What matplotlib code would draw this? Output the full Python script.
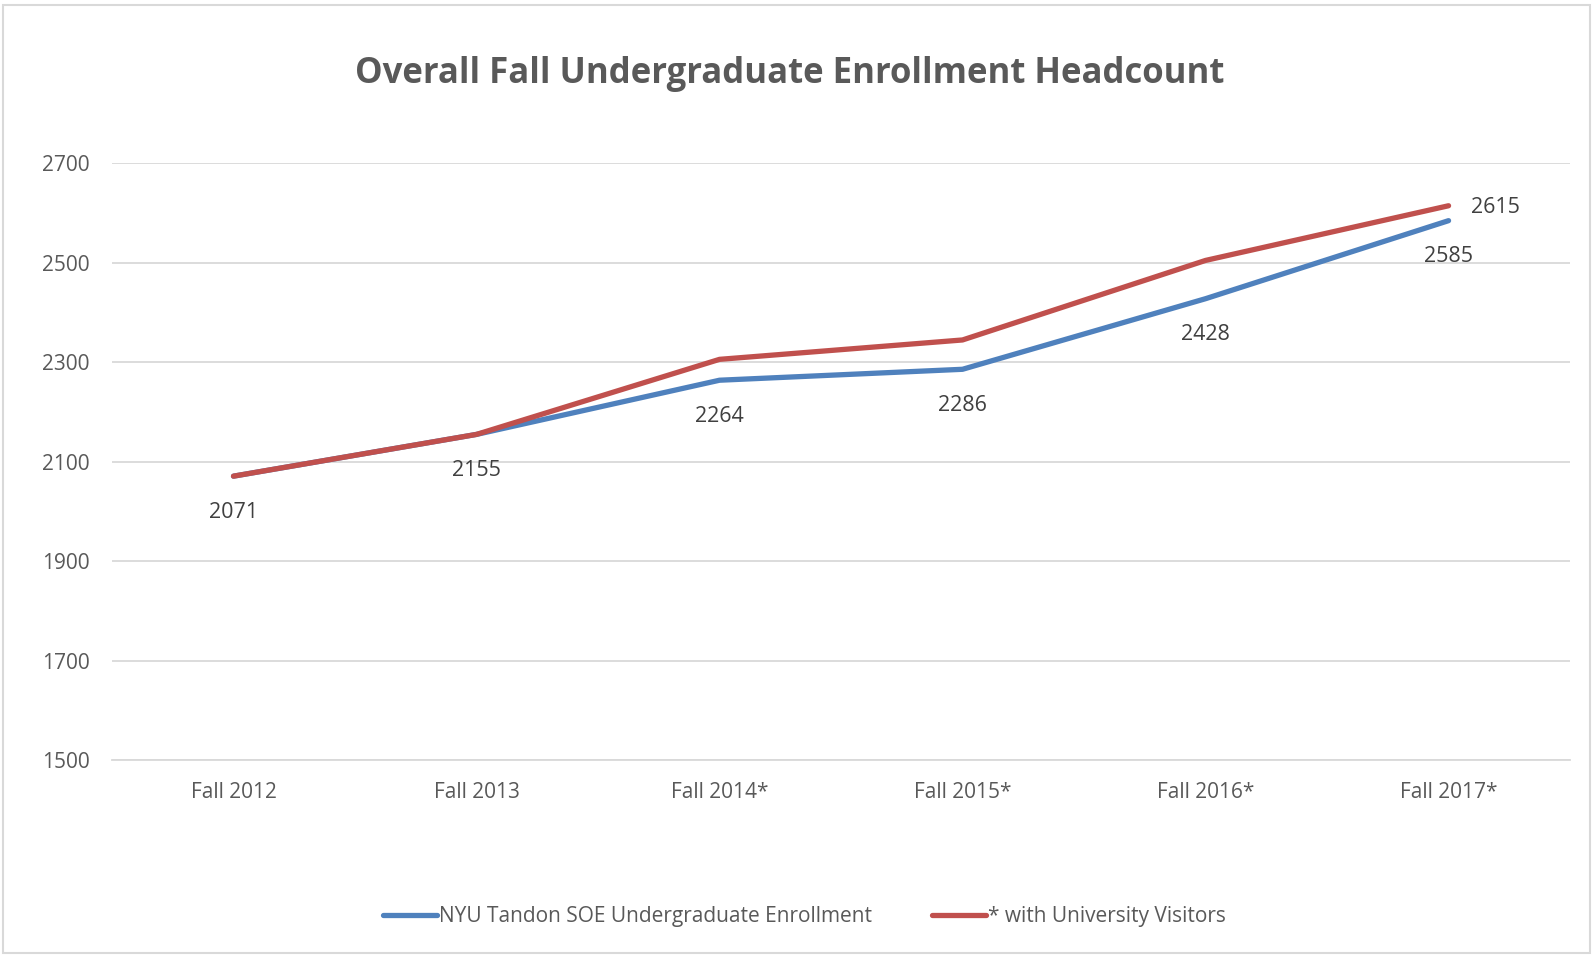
import matplotlib
matplotlib.use("Agg")
import matplotlib.pyplot as plt
from matplotlib.patches import Rectangle

plt.rcParams['font.family'] = ['Open Sans', 'DejaVu Sans']

categories = ["Fall 2012", "Fall 2013", "Fall 2014*", "Fall 2015*", "Fall 2016*", "Fall 2017*"]
tandon = [2071, 2155, 2264, 2286, 2428, 2585]
visitors = [2071, 2155, 2306, 2345, 2505, 2615]
yticks = [1500, 1700, 1900, 2100, 2300, 2500, 2700]

blue = "#4F81BD"
red = "#C0504D"
grey_text = "#595959"

fig = plt.figure(figsize=(15.93, 9.55), dpi=100)
ax = fig.add_axes([0.0703, 0.2042, 0.9153, 0.6246])

x = range(len(categories))
ax.plot(x, tandon, color=blue, lw=3.8, solid_capstyle='round', solid_joinstyle='round',
        label="NYU Tandon SOE Undergraduate Enrollment", zorder=3)
ax.plot(x, visitors, color=red, lw=3.8, solid_capstyle='round', solid_joinstyle='round',
        label="* with University Visitors", zorder=3)

# data labels
for i, v in enumerate(tandon):
    ax.annotate(str(v), (i, v), xytext=(0, -26), textcoords='offset points',
                ha='center', va='center', fontsize=15.5, color="#404040")
ax.annotate(str(visitors[-1]), (len(visitors) - 1, visitors[-1]), xytext=(34, -1),
            textcoords='offset points', ha='center', va='center', fontsize=15.5, color="#404040")

ax.set_xlim(-0.5, len(categories) - 0.5)
ax.set_ylim(1500, 2700)
ax.set_yticks(yticks)
ax.set_xticks(list(x))
ax.set_xticklabels(categories)
ax.grid(axis='y', color='#d9d9d9', lw=1.3)
ax.set_axisbelow(True)
for s in ['top', 'right', 'left']:
    ax.spines[s].set_visible(False)
ax.spines['bottom'].set_color('#d9d9d9')
ax.spines['bottom'].set_linewidth(1.3)
ax.tick_params(axis='both', length=0, labelsize=15, labelcolor=grey_text)
ax.tick_params(axis='y', pad=16)
ax.tick_params(axis='x', pad=16)

fig.text(0.496, 0.922, "Overall Fall Undergraduate Enrollment Headcount", ha='center', va='center',
         fontsize=25, fontweight='bold', color=grey_text)

leg = fig.legend(loc='center', bbox_to_anchor=(0.505, 0.04), ncol=2, frameon=False,
                 fontsize=15, handlelength=2.6, handletextpad=0.1, columnspacing=2.9)
for t in leg.get_texts():
    t.set_color(grey_text)

fig.patches.append(Rectangle((0.002, 0.002), 0.996, 0.993, transform=fig.transFigure,
                             fill=False, edgecolor='#d9d9d9', lw=1.5))

fig.savefig("out.png", dpi=100)
